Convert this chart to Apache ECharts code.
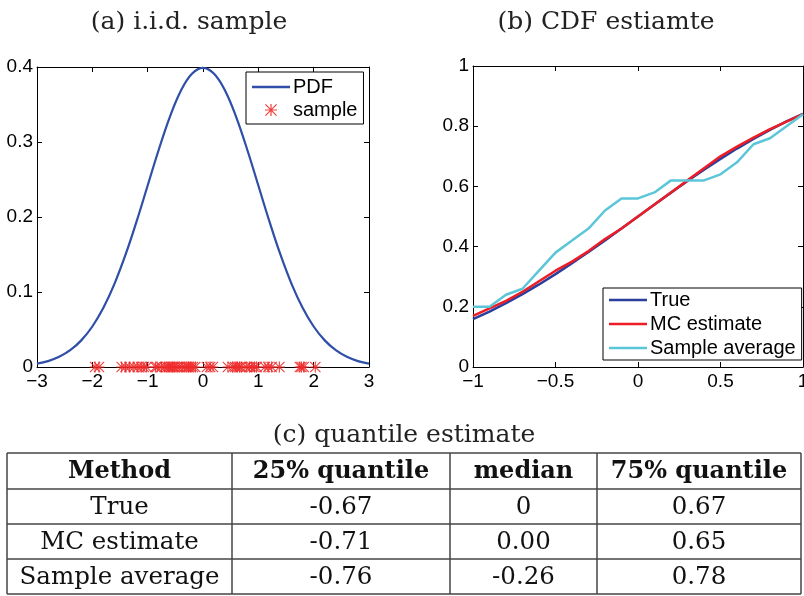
<!DOCTYPE html>
<html>
<head>
<meta charset="UTF-8">
<title>i.i.d. sample / CDF estimate / quantile estimate</title>
<script src="https://cdn.jsdelivr.net/npm/echarts@6/dist/echarts.min.js"></script>
<style>
	html, body {
		margin: 0;
		padding: 0;
		background: #fff;
	}
	#main {
		width: 804px;
		height: 596px;
	}
</style>
</head>
<body>
<div id="main"></div>
<script type="text/javascript">
    // (a) density curve and the 50 draws
    var pdfX = [-3, -2.8, -2.6, -2.4, -2.2, -2, -1.8, -1.6, -1.4, -1.2, -1, -0.8, -0.6, -0.4, -0.2, 0,
        0.2, 0.4, 0.6, 0.8, 1, 1.2, 1.4, 1.6, 1.8, 2, 2.2, 2.4, 2.6, 2.8, 3];
    var pdfY = [0.0044, 0.0079, 0.0136, 0.0224, 0.0355, 0.0540, 0.0790, 0.1109, 0.1497, 0.1942, 0.2420,
        0.2897, 0.3332, 0.3683, 0.3910, 0.3989, 0.3910, 0.3683, 0.3332, 0.2897, 0.2420, 0.1942, 0.1497,
        0.1109, 0.0790, 0.0540, 0.0355, 0.0224, 0.0136, 0.0079, 0.0044];
    var sampleX = [-1.95, -1.88, -1.47, -1.40, -1.33, -1.25, -1.18, -1.12, -1.07, -1.02,
        -0.86, -0.83, -0.75, -0.69, -0.65, -0.62, -0.58, -0.55, -0.52, -0.47, -0.43, -0.38, -0.33,
        -0.29, -0.26, -0.22, -0.18, -0.14, 0.07, 0.13, 0.18, 0.45, 0.54, 0.58, 0.62, 0.66, 0.69,
        0.78, 0.84, 0.88, 0.93, 0.97, 1.12, 1.18, 1.24, 1.38, 1.75, 1.78, 1.82, 2.03];

    // (b) CDF on [-1, 1]
    var cdfX = [-1, -0.9, -0.8, -0.7, -0.6, -0.5, -0.4, -0.3, -0.2, -0.1, 0,
        0.1, 0.2, 0.3, 0.4, 0.5, 0.6, 0.7, 0.8, 0.9, 1];
    var cdfTrue = [0.1587, 0.1841, 0.2119, 0.2420, 0.2743, 0.3085, 0.3446, 0.3821, 0.4207, 0.4602, 0.5,
        0.5398, 0.5793, 0.6179, 0.6554, 0.6915, 0.7257, 0.7580, 0.7881, 0.8159, 0.8413];
    var cdfMC = [0.170, 0.195, 0.220, 0.250, 0.285, 0.320, 0.350, 0.385, 0.425, 0.460, 0.500,
        0.540, 0.580, 0.620, 0.660, 0.700, 0.732, 0.762, 0.790, 0.815, 0.840];
    var cdfSample = [0.20, 0.20, 0.24, 0.26, 0.32, 0.38, 0.42, 0.46, 0.52, 0.56, 0.56,
        0.58, 0.62, 0.62, 0.62, 0.64, 0.68, 0.74, 0.76, 0.80, 0.84];

    // (c) table
    var tableHead = ['Method', '25% quantile', 'median', '75% quantile'];
    var tableRows = [
        ['True', '-0.67', '0', '0.67'],
        ['MC estimate', '-0.71', '0.00', '0.65'],
        ['Sample average', '-0.76', '-0.26', '0.78']
    ];

    var SANS = "'Liberation Sans', Arial, sans-serif";
    var SERIF = "'DejaVu Serif', 'Liberation Serif', serif";
    var LINE_ICON = 'path://M0,0L38,0L38,2.6L0,2.6Z';

    function zip(xs, ys) {
        return xs.map(function (x, i) { return [x, ys[i]]; });
    }

    function minus(v) {
        return String(v).replace('-', '\u2212');
    }

    function axis(type, grid, pos, min, max, step, labels) {
        return {
            type: 'value',
            gridIndex: grid,
            position: pos,
            min: min,
            max: max,
            interval: step,
            axisLine: {show: true, onZero: false, lineStyle: {color: '#000', width: 1}},
            axisTick: {show: true, inside: true, length: 5, lineStyle: {color: '#000'}},
            splitLine: {show: false},
            axisLabel: {
                show: labels,
                color: '#000',
                fontFamily: SANS,
                fontSize: 19,
                margin: type === 'x' ? 5 : 4,
                formatter: minus
            }
        };
    }

    var asterisk = 'path://M0,9L20,9L20,11L0,11Z M9,0L11,0L11,20L9,20Z ' +
        'M1.4,0L20,18.6L18.6,20L0,1.4Z M18.6,0L20,1.4L1.4,20L0,18.6Z';

    // table drawn with graphic elements
    var colX = [7, 232, 450, 597, 801];
    var rowY = [453, 489, 524, 559, 594];
    var tbl = [];
    rowY.forEach(function (y) {
        tbl.push({type: 'line', shape: {x1: colX[0], y1: y, x2: colX[4], y2: y},
            style: {stroke: '#444', lineWidth: 1.5}});
    });
    colX.forEach(function (x) {
        tbl.push({type: 'line', shape: {x1: x, y1: rowY[0], x2: x, y2: rowY[4]},
            style: {stroke: '#444', lineWidth: 1.5}});
    });
    [tableHead].concat(tableRows).forEach(function (row, r) {
        row.forEach(function (cell, c) {
            tbl.push({
                type: 'text',
                x: (colX[c] + colX[c + 1]) / 2,
                y: (rowY[r] + rowY[r + 1]) / 2 + 1,
                style: {
                    text: cell,
                    align: 'center',
                    verticalAlign: 'middle',
                    fill: '#111',
                    font: (r === 0 ? 'bold 24px ' : '24.5px ') + SERIF
                }
            });
        });
    });

    function title(txt, x, y) {
        return {
            type: 'text', x: x, y: y,
            style: {text: txt, align: 'center', verticalAlign: 'middle', fill: '#222', font: '25px ' + SERIF}
        };
    }

    function legendBox(names, left, top, gap, pad) {
        return {
            data: names,
            orient: 'vertical',
            left: left,
            top: top,
            padding: pad,
            itemWidth: 38,
            itemHeight: 12,
            itemGap: gap,
            borderColor: '#000',
            borderWidth: 1,
            borderRadius: 0,
            backgroundColor: '#fff',
            textStyle: {color: '#000', fontFamily: SANS, fontSize: 20, padding: [0, 0, 0, -2]}
        };
    }

    var myChart = echarts.init(document.getElementById('main'));

    myChart.setOption({
        animation: false,
        backgroundColor: '#fff',
        grid: [
            {left: 37, top: 67, width: 332, height: 300, outerBoundsMode: 'none', containLabel: false},
            {left: 473, top: 66, width: 330, height: 301, outerBoundsMode: 'none', containLabel: false}
        ],
        xAxis: [
            axis('x', 0, 'bottom', -3, 3, 1, true),
            axis('x', 0, 'top', -3, 3, 1, false),
            axis('x', 1, 'bottom', -1, 1, 0.5, true),
            axis('x', 1, 'top', -1, 1, 0.5, false)
        ],
        yAxis: [
            axis('y', 0, 'left', 0, 0.4, 0.1, true),
            axis('y', 0, 'right', 0, 0.4, 0.1, false),
            axis('y', 1, 'left', 0, 1, 0.2, true),
            axis('y', 1, 'right', 0, 1, 0.2, false)
        ],
        legend: [
            legendBox([{name: 'PDF', icon: LINE_ICON}, 'sample'], 246, 72, 3, [5, 6, 4, 6]),
            legendBox([{name: 'True', icon: LINE_ICON}, {name: 'MC estimate', icon: LINE_ICON},
                {name: 'Sample average', icon: LINE_ICON}], 603, 288, 4, [2, 6, 2, 6])
        ],
        series: [
            {
                name: 'PDF', type: 'line', xAxisIndex: 0, yAxisIndex: 0,
                data: zip(pdfX, pdfY), smooth: 0.4, symbol: 'none',
                lineStyle: {color: '#2E4EA8', width: 2.2}, itemStyle: {color: '#2E4EA8'}
            },
            {
                name: 'sample', type: 'scatter', xAxisIndex: 0, yAxisIndex: 0,
                data: sampleX.map(function (x) { return [x, 0]; }),
                symbol: asterisk, symbolSize: 11, clip: false, z: 5,
                itemStyle: {color: '#EE2A2A', opacity: 0.9}
            },
            {
                name: 'True', type: 'line', xAxisIndex: 2, yAxisIndex: 2,
                data: zip(cdfX, cdfTrue), symbol: 'none',
                lineStyle: {color: '#2A3F9C', width: 2.5}, itemStyle: {color: '#2A3F9C'}
            },
            {
                name: 'MC estimate', type: 'line', xAxisIndex: 2, yAxisIndex: 2,
                data: zip(cdfX, cdfMC), symbol: 'none',
                lineStyle: {color: '#EE1C24', width: 2.5}, itemStyle: {color: '#EE1C24'}
            },
            {
                name: 'Sample average', type: 'line', xAxisIndex: 2, yAxisIndex: 2,
                data: zip(cdfX, cdfSample), symbol: 'none',
                lineStyle: {color: '#5CC6D9', width: 2.5}, itemStyle: {color: '#5CC6D9'}
            }
        ],
        graphic: [
            title('(a) i.i.d. sample', 189, 22),
            title('(b) CDF estiamte', 606, 22),
            title('(c) quantile estimate', 404, 435)
        ].concat(tbl)
    });
</script>
</body>
</html>
